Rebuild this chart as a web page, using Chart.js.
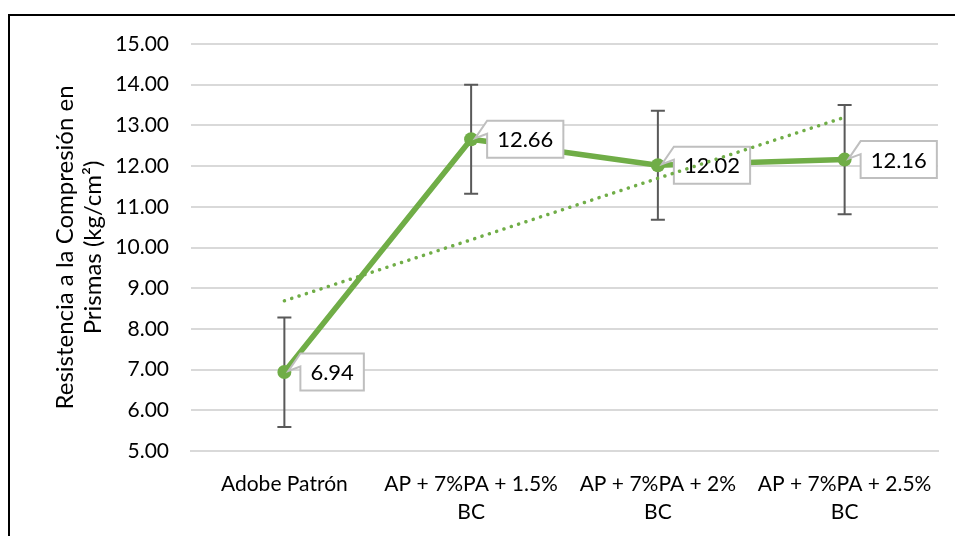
<!DOCTYPE html>
<html>
<head>
<meta charset="utf-8">
<script src="https://cdn.jsdelivr.net/npm/chart.js@4.4.1/dist/chart.umd.min.js"></script>
<style>
    html, body { margin: 0; padding: 0; background: #fff; }
    #wrap { position: relative; width: 955px; height: 536px; overflow: hidden; }
    #frame {
        position: absolute; left: 8px; top: 14px; width: 1000px; height: 600px;
        border-left: 2px solid #000; border-top: 2px solid #000; pointer-events: none;
    }
</style>
</head>
<body>
<div id="wrap">
    <canvas id="chart" width="955" height="536"></canvas>
    <div id="frame"></div>
</div>
<script>
// Data
const categories = [
    'Adobe Patrón',
    ['AP + 7%PA + 1.5%', 'BC'],
    ['AP + 7%PA + 2%', 'BC'],
    ['AP + 7%PA + 2.5%', 'BC']
];
const resistance = [6.94, 12.66, 12.02, 12.16];
const errorPlus = [1.34, 1.34, 1.34, 1.34];
const errorMinus = [1.35, 1.34, 1.34, 1.34];
const trendValues = [8.69, 10.19, 11.70, 13.20];
const yTitle = ['Resistencia a la Compresión en', 'Prismas (kg/cm²)'];

const green = '#70ad47';
const fontFamily = 'Lato, Carlito, Calibri, sans-serif';

// Error bars, drawn under the lines
const errorBars = {
    id: 'errorBars',
    beforeDatasetsDraw(chart) {
        const ctx = chart.ctx;
        const x = chart.scales.x, y = chart.scales.y;
        ctx.save();
        ctx.strokeStyle = '#595959';
        ctx.lineWidth = 2;
        resistance.forEach((v, i) => {
            const px = x.getPixelForValue(i);
            const top = y.getPixelForValue(v + errorPlus[i]);
            const bot = y.getPixelForValue(v - errorMinus[i]);
            ctx.beginPath();
            ctx.moveTo(px, top); ctx.lineTo(px, bot);
            ctx.moveTo(px - 7, top); ctx.lineTo(px + 7, top);
            ctx.moveTo(px - 7, bot); ctx.lineTo(px + 7, bot);
            ctx.stroke();
        });
        ctx.restore();
    }
};

// Callout data labels
const callouts = {
    id: 'callouts',
    afterDatasetDraw(chart, args) {
        if (args.index !== 0) return;
        const ctx = chart.ctx;
        const meta = chart.getDatasetMeta(0);
        ctx.save();
        ctx.font = '22px ' + fontFamily;
        meta.data.forEach((pt, i) => {
            const text = resistance[i].toFixed(2);
            const w = ctx.measureText(text).width + 20;
            const h = 37;
            const bx = pt.x + 16, by = pt.y - h / 2;
            ctx.beginPath();
            ctx.moveTo(bx, by);
            ctx.lineTo(bx + w, by);
            ctx.lineTo(bx + w, by + h);
            ctx.lineTo(bx, by + h);
            ctx.lineTo(bx, by + 13);
            ctx.lineTo(pt.x + 4, pt.y - 1);
            ctx.closePath();
            ctx.fillStyle = '#fff';
            ctx.fill();
            ctx.strokeStyle = '#bfbfbf';
            ctx.lineWidth = 2;
            ctx.stroke();
            ctx.fillStyle = '#000';
            ctx.textAlign = 'center';
            ctx.textBaseline = 'middle';
            ctx.fillText(text, bx + w / 2, by + h / 2 + 1);
        });
        ctx.restore();
    }
};

const ctx = document.getElementById('chart').getContext('2d');
const chart = new Chart(ctx, {
    type: 'line',
    data: {
        labels: categories,
        datasets: [{
            label: 'Resistencia',
            data: resistance,
            borderColor: green,
            backgroundColor: green,
            borderWidth: 5.5,
            pointRadius: 7,
            pointBackgroundColor: green,
            pointBorderWidth: 0,
            tension: 0,
            order: 1
        }, {
            label: 'Tendencia',
            data: trendValues,
            borderColor: green,
            borderWidth: 3.5,
            borderDash: [0.1, 7.6],
            borderCapStyle: 'round',
            pointRadius: 0,
            tension: 0,
            order: 0
        }]
    },
    options: {
        responsive: false,
        animation: false,
        layout: { padding: { left: 0, top: 44, right: 17, bottom: 0 } },
        plugins: {
            legend: { display: false },
            tooltip: { enabled: false }
        },
        scales: {
            x: {
                offset: true,
                grid: { display: false },
                border: { color: '#d9d9d9', width: 2 },
                ticks: {
                    color: '#000',
                    padding: 11,
                    maxRotation: 0,
                    autoSkip: false,
                    font: { family: fontFamily, size: 21, lineHeight: '28px' }
                },
                afterFit(scale) { scale.height = 85; }
            },
            y: {
                min: 5,
                max: 15,
                border: { display: false },
                grid: { color: '#d9d9d9', lineWidth: 2, drawTicks: false },
                ticks: {
                    stepSize: 1,
                    color: '#000',
                    padding: 22,
                    font: { family: fontFamily, size: 21 },
                    callback: v => v.toFixed(2)
                },
                title: {
                    display: true,
                    text: yTitle,
                    color: '#000',
                    padding: { top: 51, bottom: 0 },
                    font: { family: fontFamily, size: 24, lineHeight: '28px' }
                },
                afterFit(scale) { scale.width = 191; }
            }
        }
    },
    plugins: [errorBars, callouts]
});
</script>
</body>
</html>
